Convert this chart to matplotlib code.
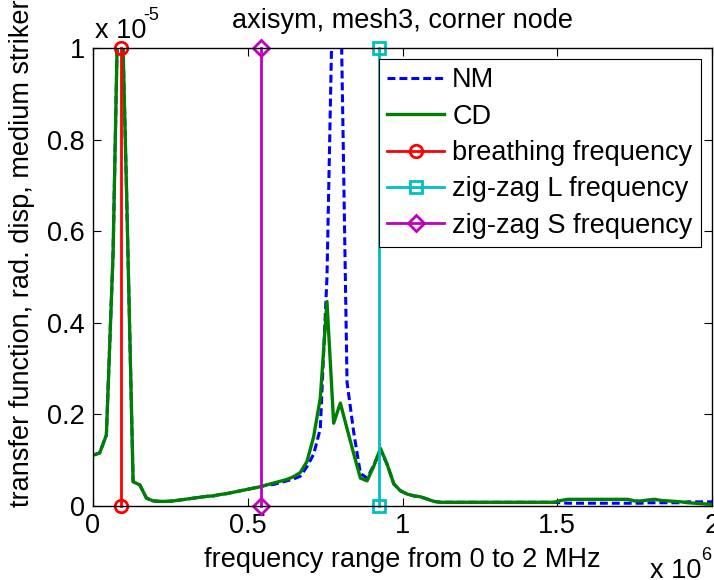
import numpy as np
import matplotlib
matplotlib.use('Agg')
import matplotlib.pyplot as plt

plt.rcParams['font.family'] = ['Liberation Sans', 'DejaVu Sans']

# frequency grid (Hz) and transfer-function magnitudes (units of 1e-5)
df = 21.6e3
freq = np.arange(94) * df

cd = [0.110, 0.115, 0.154, 0.55, 1.30, 0.70, 0.052, 0.045, 0.016, 0.010,
      0.009, 0.009, 0.010, 0.012, 0.014, 0.016, 0.018, 0.020, 0.021, 0.024,
      0.026, 0.029, 0.032, 0.035, 0.038, 0.041, 0.045, 0.049, 0.053, 0.057,
      0.063, 0.072, 0.096, 0.150, 0.235, 0.446, 0.180, 0.224, 0.168, 0.113,
      0.060, 0.054, 0.086, 0.125, 0.090, 0.047, 0.032, 0.025, 0.021, 0.019,
      0.014, 0.009, 0.007, 0.007, 0.007, 0.007, 0.007, 0.007, 0.007, 0.007,
      0.007, 0.007, 0.007, 0.007, 0.007, 0.007, 0.007, 0.007, 0.007, 0.007,
      0.011, 0.0135, 0.0135, 0.0135, 0.0135, 0.0135, 0.0135, 0.0135, 0.0135, 0.0135,
      0.0135, 0.010, 0.010, 0.012, 0.0135, 0.011, 0.010, 0.009, 0.008, 0.006,
      0.005, 0.004, 0.003, 0.003]

nm = [0.110, 0.115, 0.154, 0.55, 1.30, 0.70, 0.052, 0.045, 0.016, 0.010,
      0.009, 0.009, 0.010, 0.012, 0.014, 0.016, 0.018, 0.020, 0.021, 0.024,
      0.026, 0.029, 0.032, 0.035, 0.038, 0.041, 0.045, 0.046, 0.050, 0.054,
      0.058, 0.064, 0.085, 0.112, 0.168, 0.50, 1.24, 1.18, 0.27, 0.16,
      0.070, 0.060, 0.088, 0.122, 0.090, 0.047, 0.032, 0.025, 0.021, 0.019,
      0.014, 0.009, 0.007, 0.007, 0.007, 0.007, 0.007, 0.007, 0.007, 0.007,
      0.007, 0.007, 0.007, 0.007, 0.007, 0.007, 0.007, 0.007, 0.007, 0.007,
      0.006, 0.005, 0.005, 0.005, 0.005, 0.005, 0.005, 0.005, 0.005, 0.005,
      0.005, 0.005, 0.005, 0.006, 0.006, 0.006, 0.006, 0.006, 0.006, 0.008,
      0.008, 0.008, 0.008, 0.008]

nm = np.array(nm) * 1e-5
cd = np.array(cd) * 1e-5

f_breathing = 90.5e3
f_zigzag_L = 924e3
f_zigzag_S = 542e3
y_range = [0, 1e-5]

W, H = 714, 580
fig = plt.figure(figsize=(W / 100, H / 100), dpi=100)
ax = fig.add_axes([93 / W, 1 - 505.5 / H, 619 / W, 457.2 / H])

fs = 19.5
ax.plot(freq, nm, color=(0, 0, 1), lw=2.2, linestyle=(0, (2.6, 1.3)), label='NM')
ax.plot(freq, cd, color=(0, 0.5, 0), lw=2.4, label='CD')
ax.plot([f_breathing] * 2, y_range, color='red', lw=2, marker='o', ms=9,
        mfc='none', mew=2, clip_on=False, label='breathing frequency')
ax.plot([f_zigzag_L] * 2, y_range, color=(0, 0.75, 0.75), lw=2, marker='s', ms=9,
        mfc='none', mew=2, clip_on=False, label='zig-zag L frequency')
ax.plot([f_zigzag_S] * 2, y_range, color=(0.75, 0, 0.75), lw=2, marker='D', ms=8,
        mfc='none', mew=2, clip_on=False, label='zig-zag S frequency')

ax.set_xlim(0, 2e6)
ax.set_ylim(0, 1e-5)
ax.set_xticks([0, 0.5e6, 1e6, 1.5e6, 2e6])
ax.set_xticklabels(['0', '0.5', '1', '1.5', '2'])
ax.set_yticks([0, 0.2e-5, 0.4e-5, 0.6e-5, 0.8e-5, 1e-5])
ax.set_yticklabels(['0', '0.2', '0.4', '0.6', '0.8', '1'])
ax.tick_params(direction='in', length=6, width=0.8, top=True, right=True,
               labelsize=fs, pad=5.7, colors='black')
for sp in ax.spines.values():
    sp.set_linewidth(1.0)

leg = ax.legend(loc='upper left', bbox_to_anchor=((379 - 93) / 619, (505.5 - 59.3) / 457.2),
                borderaxespad=0, fontsize=fs, fancybox=False, framealpha=1,
                edgecolor='black', borderpad=0.3, labelspacing=0.38,
                handlelength=2.1, handletextpad=0.3, numpoints=1)
leg.get_frame().set_linewidth(0.8)

def fig_text(x, y, s, **kw):
    fig.text(x / W, 1 - y / H, s, **kw)

fig_text(402, 28, 'axisym, mesh3, corner node', fontsize=fs, ha='center', va='baseline')
fig_text(402.5, 567, 'frequency range from 0 to 2 MHz', fontsize=fs, ha='center', va='baseline')
fig_text(22, 253, 'transfer function, rad. disp, medium striker', fontsize=fs,
         rotation=90, ha='center', va='center')

# axis multipliers
fig_text(95, 38, 'x 10', fontsize=fs, ha='left', va='baseline')
fig_text(143, 20, '-5', fontsize=13, ha='left', va='baseline')
fig_text(650, 578, 'x 10', fontsize=fs, ha='left', va='baseline')
fig_text(701, 560, '6', fontsize=13, ha='left', va='baseline')

fig.savefig('out.png', dpi=100)
